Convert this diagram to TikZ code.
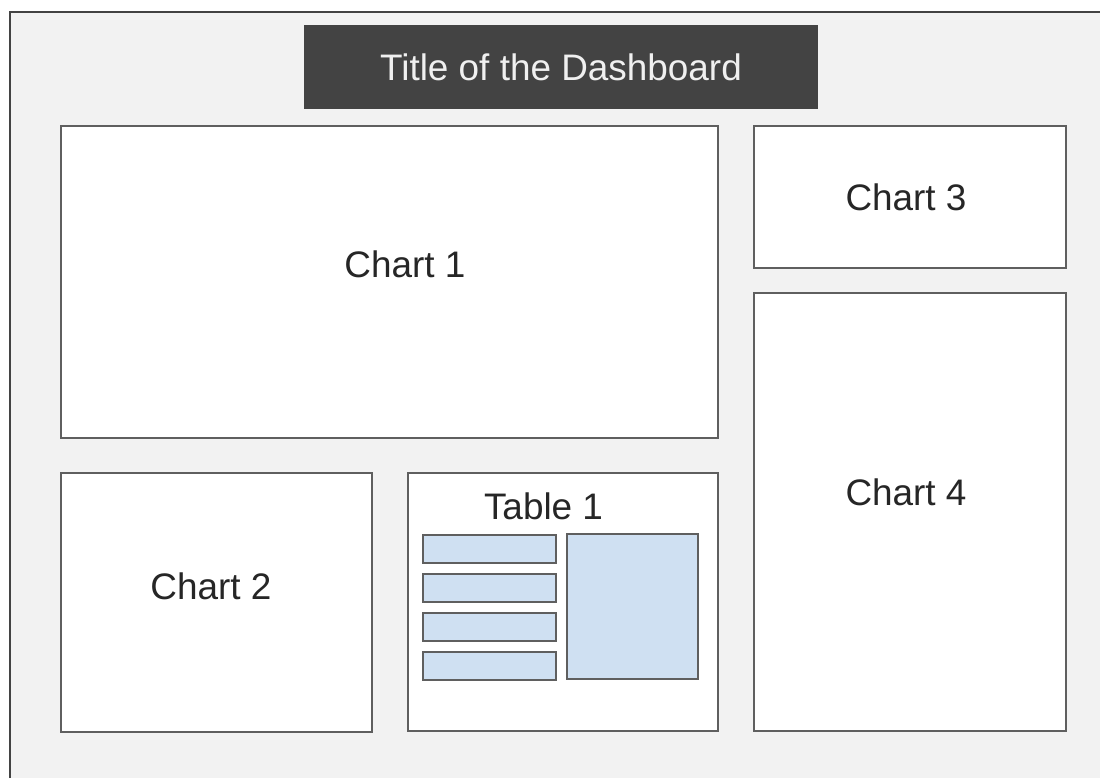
\documentclass[tikz,border=0pt]{standalone}
\usepackage{fontspec}
\setmainfont{Liberation Sans}
\usepackage{tikz}
\usepackage{xcolor}
\usetikzlibrary{positioning, calc}

\definecolor{pagegray}{HTML}{F2F2F2}
\definecolor{titlegray}{HTML}{434343}
\definecolor{edgegray}{HTML}{5F5F5F}
\definecolor{rowblue}{HTML}{CFE0F2}

\begin{document}
\begin{tikzpicture}[
    panel/.style={rectangle, draw=edgegray, fill=white, line width=1.1pt, inner sep=0pt},
    cell/.style={rectangle, draw=edgegray, fill=rowblue, line width=1.1pt, inner sep=0pt},
    caption/.style={font=\fontsize{21}{25}\selectfont, text=black!85, inner sep=0pt},
    banner/.style={rectangle, fill=titlegray, inner sep=0pt, font=\fontsize{21}{25}\selectfont, text=white!94!black}
]

% Page
\useasboundingbox (0,0) rectangle (22,-15.56);
\fill[white] (0,0) rectangle (22,-15.56);
\fill[pagegray] (0.2,-0.24) rectangle (22,-15.56);
\draw[edgegray!70!black, line width=1.1pt] (0.2,-15.56) -- (0.2,-0.24) -- (22,-0.24);

% Title
\node[banner, minimum width=10.28cm, minimum height=1.68cm] (title) at (11.22,-1.34) {Title of the Dashboard};

% Chart 1
\node[panel, minimum width=13.14cm, minimum height=6.24cm] (c1) at (7.79,-5.64) {};
\node[caption] (c1t) at (8.1,-5.28) {Chart 1};

% Chart 3
\node[panel, minimum width=6.24cm, minimum height=2.84cm] (c3) at (18.2,-3.94) {};
\node[caption] (c3t) at (18.12,-3.94) {Chart 3};

% Chart 4
\node[panel, minimum width=6.24cm, minimum height=8.76cm] (c4) at (18.2,-10.24) {};
\node[caption] (c4t) at (18.12,-9.84) {Chart 4};

% Chart 2
\node[panel, minimum width=6.22cm, minimum height=5.18cm] (c2) at (4.33,-12.05) {};
\node[caption] (c2t) at (4.22,-11.72) {Chart 2};

% Table 1
\node[panel, minimum width=6.2cm, minimum height=5.16cm] (t1) at (11.26,-12.04) {};
\node[caption] (t1t) at (10.87,-10.12) {Table 1};
\foreach \i/\y in {1/-10.98, 2/-11.76, 3/-12.54, 4/-13.32}
    \node[cell, minimum width=2.66cm, minimum height=0.56cm] (row\i) at (9.79,\y) {};
\node[cell, minimum width=2.62cm, minimum height=2.9cm] (blk) at (12.65,-12.13) {};

\end{tikzpicture}
\end{document}
